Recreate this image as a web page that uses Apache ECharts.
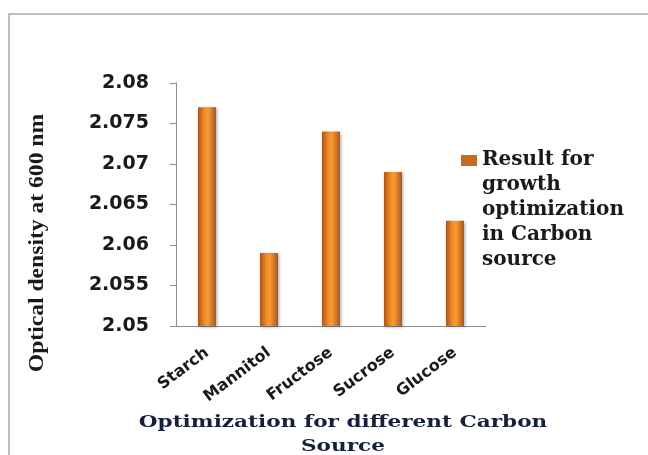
<!DOCTYPE html>
<html>
<head>
<meta charset="utf-8">
<script src="https://cdn.jsdelivr.net/npm/echarts@6/dist/echarts.min.js"></script>
<style>html,body{margin:0;padding:0;background:#fff;}#c{width:648px;height:455px;}</style>
</head>
<body>
<div id="c"></div>
<script>
const categories = ['Starch', 'Mannitol', 'Fructose', 'Sucrose', 'Glucose'];
const values = [2.077, 2.059, 2.074, 2.069, 2.063];
const seriesName = 'Result for growth optimization in Carbon source';
const legendLines = ['Result for', 'growth', 'optimization', 'in Carbon', 'source'];
const yTitle = 'Optical density at 600 nm';
const xTitleLines = ['Optimization for different Carbon', 'Source'];
const yMin = 2.05, yMax = 2.08, yStep = 0.005;

const chart = echarts.init(document.getElementById('c'), null, {renderer: 'canvas'});
const barGrad = new echarts.graphic.LinearGradient(0, 0, 1, 0, [
  {offset: 0, color: '#a9561a'},
  {offset: 0.35, color: '#f28a2a'},
  {offset: 0.55, color: '#fa9a35'},
  {offset: 1, color: '#a9561a'}
]);
chart.setOption({
  animation: false,
  backgroundColor: '#fff',
  grid: {left: 176, right: 162, top: 83, bottom: 129, containLabel: false},
  xAxis: {
    type: 'category',
    data: categories,
    axisLine: {show: true, lineStyle: {color: '#8c8c8c', width: 1}},
    axisTick: {show: false},
    axisLabel: {rotate: 37, interval: 0, margin: 25, color: '#1a1a1a', fontFamily: 'DejaVu Sans', fontWeight: 'bold', fontSize: 16}
  },
  yAxis: {
    type: 'value',
    min: yMin, max: yMax, interval: yStep,
    splitLine: {show: false},
    axisLine: {show: true, lineStyle: {color: '#8c8c8c', width: 1}},
    axisTick: {show: true, inside: false, length: 6, lineStyle: {color: '#8c8c8c'}},
    axisLabel: {margin: 27, color: '#1a1a1a', fontFamily: 'DejaVu Sans', fontWeight: 'bold', fontSize: 19,
      formatter: v => String(parseFloat(v.toFixed(3)))}
  },
  legend: {
    left: 456, top: 142,
    orient: 'vertical',
    itemWidth: 16, itemHeight: 125, itemGap: 0,
    icon: 'path://M0,0L0.01,0Z M0,8L16,8L16,19L0,19Z M0,125L0.01,125Z',
    formatter: () => legendLines.join('\n'),
    textStyle: {fontFamily: 'DejaVu Serif', fontWeight: 'bold', fontSize: 20, color: '#1a1a1a', lineHeight: 25},
    data: [{name: seriesName, itemStyle: {color: '#c46c22'}}]
  },
  series: [{
    name: seriesName,
    type: 'bar',
    data: values,
    barWidth: 18,
    itemStyle: {color: barGrad, shadowBlur: 3, shadowColor: 'rgba(0,0,0,0.35)', shadowOffsetX: 1, shadowOffsetY: 1}
  }],
  graphic: [
    {type: 'rect', shape: {x: 9, y: 14, width: 700, height: 500}, style: {fill: 'none', stroke: '#bdbdbd', lineWidth: 2}, silent: true, z: -1},
    {type: 'text', x: 38, y: 243, rotation: Math.PI / 2, scaleX: 1.18,
      style: {text: yTitle, fill: '#1a1a1a', font: 'bold 20px "Liberation Serif"', align: 'center', verticalAlign: 'middle'}},
    {type: 'text', x: 343, y: 423, scaleX: 1.27,
      style: {text: xTitleLines[0], fill: '#15213a', font: 'bold 17px "DejaVu Serif"', align: 'center', verticalAlign: 'middle'}},
    {type: 'text', x: 343, y: 447, scaleX: 1.27,
      style: {text: xTitleLines[1], fill: '#15213a', font: 'bold 17px "DejaVu Serif"', align: 'center', verticalAlign: 'middle'}}
  ]
});
</script>
</body>
</html>
